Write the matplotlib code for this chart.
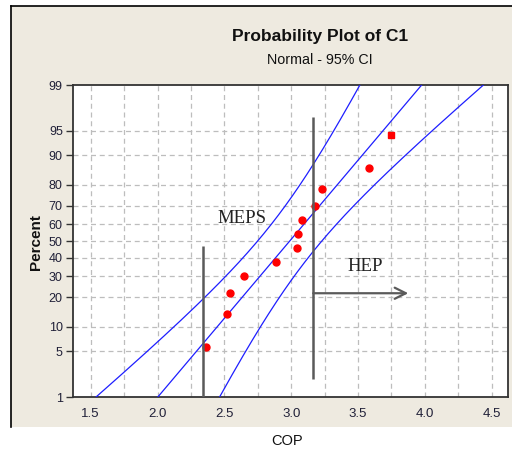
import matplotlib
matplotlib.use("Agg")
import matplotlib.pyplot as plt
from matplotlib.patches import Rectangle
from matplotlib.lines import Line2D
from statistics import NormalDist
import numpy as np

# ---- data ----
cop = [2.36, 2.52, 2.54, 2.65, 2.89, 3.04, 3.05, 3.08, 3.18, 3.23, 3.58, 3.75]
percent_ticks = [1, 5, 10, 20, 30, 40, 50, 60, 70, 80, 90, 95, 99]
x_ticks = [1.5, 2.0, 2.5, 3.0, 3.5, 4.0, 4.5]
title = "Probability Plot of C1"
subtitle = "Normal - 95% CI"
meps_line_x = 2.34
meps_line_top_pct = 47.2
hep_line_x = 3.165
hep_line_pct = (1.96, 96.8)
hep_arrow_pct = 21.8
hep_arrow_end_x = 3.876
meps_text = (2.452, 62.9)
hep_text = (3.423, 35.1)

nd = NormalDist()
def z(p):
    return nd.inv_cdf(p / 100.0)

n = len(cop)
xs = np.sort(np.array(cop))
ranks = np.arange(1, n + 1)
pcts = (ranks - 0.3) / (n + 0.4) * 100
zs = np.array([z(p) for p in pcts])
mu = xs.mean()
sd = xs.std(ddof=1)

zline = np.linspace(z(1), z(99), 200)
xfit = mu + zline * sd
half = 1.96 * sd * np.sqrt(1.0 / n + zline ** 2 / (2 * n))

fig = plt.figure(figsize=(5.12, 4.5), dpi=100)
fig.patch.set_facecolor("white")
bg = "#EEEAE0"
rect = Rectangle((11 / 512, 1 - 427 / 450), 1 - 11 / 512, (427 - 6) / 450,
                 transform=fig.transFigure, facecolor=bg, edgecolor="none", zorder=-10)
fig.patches.append(rect)
fig.lines.append(Line2D([11 / 512, 11 / 512], [1 - 427 / 450, 1 - 6 / 450], transform=fig.transFigure,
                        color="black", lw=1.2, zorder=-5))
fig.lines.append(Line2D([11 / 512, 1.0], [1 - 6 / 450, 1 - 6 / 450], transform=fig.transFigure,
                        color="black", lw=1.2, zorder=-5))

ax = fig.add_axes([72.5 / 512, 1 - 397 / 450, (508 - 72.5) / 512, (397 - 85) / 450])
ax.set_zorder(5)
ax.set_facecolor("white")
ax.set_xlim(1.364, 4.622)
ax.set_ylim(z(1), z(99))

# grid
for gx in np.arange(1.5, 4.51, 0.25):
    ax.axvline(gx, color="#BDBDBD", lw=0.9, ls=(0, (4, 3)), zorder=1)
for p in percent_ticks[1:-1]:
    ax.axhline(z(p), color="#BDBDBD", lw=0.9, ls=(0, (4, 3)), zorder=1)

# fit and CI
ax.plot(xfit, zline, color="#1E1EFF", lw=0.9, zorder=3)
ax.plot(xfit - half, zline, color="#1E1EFF", lw=0.9, zorder=3)
ax.plot(xfit + half, zline, color="#1E1EFF", lw=0.9, zorder=3)

# points
ax.plot(xs[:-1], zs[:-1], "o", color="#FF0000", ms=5, mec="#FF0000", zorder=4, ls="none")
ax.plot(xs[-1:], zs[-1:], "s", color="#FF0000", ms=4.5, mec="#FF0000", zorder=4, ls="none")

# annotations
lc = "#5A5A5A"
ax.plot([meps_line_x, meps_line_x], [z(1), z(meps_line_top_pct)], color=lc, lw=1.8, zorder=5,
        solid_capstyle="butt")
ax.plot([hep_line_x, hep_line_x], [z(hep_line_pct[0]), z(hep_line_pct[1])], color=lc, lw=1.8, zorder=5,
        solid_capstyle="butt")
ax.annotate("", xy=(hep_arrow_end_x, z(hep_arrow_pct)), xytext=(hep_line_x, z(hep_arrow_pct)),
            arrowprops=dict(arrowstyle="->,head_length=0.8,head_width=0.4", color=lc, lw=1.6,
                            shrinkA=0, shrinkB=0), zorder=5)
ax.text(meps_text[0], z(meps_text[1]), "MEPS", family="Liberation Serif", fontsize=13.5,
        va="center", ha="left", color="#222222", zorder=6)
ax.text(hep_text[0], z(hep_text[1]), "HEP", family="Liberation Serif", fontsize=13.5,
        va="center", ha="left", color="#222222", zorder=6)

# ticks
ax.set_xticks(x_ticks)
ax.set_xticklabels([f"{t:.1f}" for t in x_ticks])
ax.set_yticks([z(p) for p in percent_ticks])
ax.set_yticklabels([str(p) for p in percent_ticks])
ax.tick_params(axis="x", length=0, pad=8, labelsize=9.5, labelcolor="#202038")
ax.tick_params(axis="y", length=5, width=1, pad=2, labelsize=9, labelcolor="#202038", color="#333333")
for lab in ax.get_xticklabels() + ax.get_yticklabels():
    lab.set_family("Liberation Sans")
for s in ax.spines.values():
    s.set_color("#333333")
    s.set_linewidth(1.3)

fig.text(320 / 512, 1 - 37 / 450, title, family="Liberation Sans", fontweight="bold",
         fontsize=12.5, ha="center", va="center", color="#111111")
fig.text(319.5 / 512, 1 - 59.5 / 450, subtitle, family="Liberation Sans", fontsize=10.3,
         ha="center", va="center", color="#111111")
fig.text(36 / 512, 1 - 241.7 / 450, "Percent", family="Liberation Sans", fontweight="bold",
         fontsize=11, rotation=90, ha="center", va="center", color="#111111")
fig.text(286.7 / 512, 1 - 441 / 450, "COP", family="Liberation Sans", fontsize=10.5,
         ha="center", va="center", color="#111111")

fig.savefig("out.png", dpi=100, facecolor=fig.get_facecolor())
